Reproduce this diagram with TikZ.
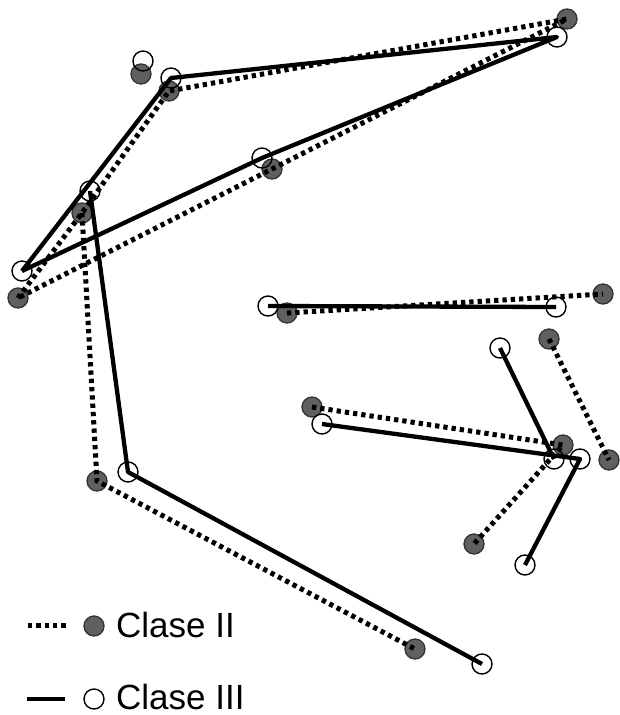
\documentclass[tikz,border=0pt]{standalone}
\usepackage{fontspec}
\setmainfont{Liberation Sans}
\usepackage{tikz}
\definecolor{grisdos}{RGB}{96,96,96}
\tikzset{
  clasedos/.style={circle, draw=black!80, line width=1.3pt, fill=grisdos, minimum size=20pt, inner sep=0pt},
  clasetres/.style={circle, draw=black, line width=1.4pt, minimum size=20pt, inner sep=0pt},
  lineados/.style={line width=5pt, dash pattern=on 4.3pt off 4pt},
  lineatres/.style={line width=4.3pt, line join=round},
}

\begin{document}
\begin{tikzpicture}[x=1pt, y=-1pt]
    \useasboundingbox (0,0) rectangle (620,715);
    % Clase II landmarks
    \foreach \n/\x/\y in {A/141/74, B/169/91, C/567/19, D/272/169, E/82/213,
                          F/18/298, G/287/313, H/603/294, I/549/339, J/312/407,
                          K/563/445, L/609/460, M/474/544, N/97/481, O/415/649}
      \node[clasedos] (\n2) at (\x,\y) {};
    % Clase III landmarks
    \foreach \n/\x/\y in {A/143/61, B/171/78, C/557/37, D/262/158, E/90/191,
                          F/22/271, G/268/306, H/556/307, I/500/348, J/322/424,
                          K/554/459, L/580/459, M/525/565, N/128/472, O/482/664}
      \node[clasetres] (\n3) at (\x,\y) {};
    % --- Clase II outline ---
    \draw[lineados] (F2.center) -- (E2.center) -- (B2.center) -- (C2.center) -- (D2.center) -- (F2.center);
    \draw[lineados] (E2.center) -- (N2.center) -- (O2.center);
    \draw[lineados] (G2.center) -- (H2.center);
    \draw[lineados] (I2.center) -- (L2.center);
    \draw[lineados] (J2.center) -- (K2.center) -- (M2.center);
    % --- Clase III outline ---
    \draw[lineatres] (F3.center) -- (B3.center) -- (C3.center) -- (D3.center) -- (F3.center);
    \draw[lineatres] (E3.center) -- (N3.center) -- (O3.center);
    \draw[lineatres] (G3.center) -- (H3.center);
    \draw[lineatres] (I3.center) -- (K3.center);
    \draw[lineatres] (J3.center) -- (L3.center) -- (M3.center);
    % Legend
    \coordinate (ldosa) at (28,625);
    \coordinate (ldosb) at (68,625);
    \draw[lineados] (ldosa) -- (ldosb);
    \node[clasedos] (ldos) at (94,626) {};
    \node[anchor=base west, inner sep=0pt, font=\fontsize{35}{40}\selectfont] (tdos) at (116,637) {Clase II};
    \coordinate (ltresa) at (27,699);
    \coordinate (ltresb) at (65,699);
    \draw[lineatres] (ltresa) -- (ltresb);
    \node[clasetres] (ltres) at (94,699) {};
    \node[anchor=base west, inner sep=0pt, font=\fontsize{35}{40}\selectfont] (ttres) at (116,709) {Clase III};
\end{tikzpicture}
\end{document}
